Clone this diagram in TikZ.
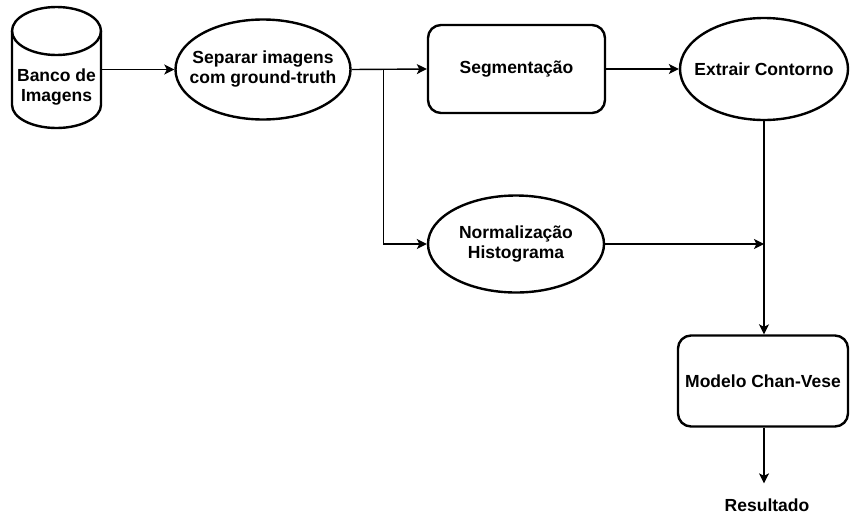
\documentclass[tikz,border=0pt]{standalone}
\usepackage{fontspec}
\setmainfont{Liberation Sans}
\usetikzlibrary{shapes.geometric,arrows.meta,calc}

\tikzset{
  every node/.style={font=\bfseries\fontsize{17.5}{20}\selectfont, align=center},
  shapeline/.style={draw=black, line width=2.4pt},
  oval/.style={shapeline, ellipse, inner sep=-40pt},
  roundbox/.style={shapeline, rectangle, rounded corners=13pt, inner sep=0pt},
  conn/.style={draw=black, line width=1.4pt},
  arr/.style={conn, -{Stealth[length=10pt, width=10pt, inset=2.5pt]}},
}

\begin{document}
\begin{tikzpicture}[x=1pt, y=-1pt]
  \useasboundingbox (0,0) rectangle (850,517);

  % database cylinder (node spans the body, label sits low in it)
  \node[inner sep=0pt, minimum width=89pt, minimum height=121pt,
        label={[yshift=-19.5pt]center:Banco de\\Imagens}] (db) at (56.5,67.5) {};
  \draw[shapeline] (56.5,31) ellipse[x radius=44.5, y radius=24];
  \draw[shapeline] (12,31) -- (12,105)
                   arc[start angle=180, end angle=0, x radius=44.5, y radius=23]
                   -- (101,31);

  % process nodes
  \node[oval, minimum width=175pt, minimum height=100pt] (sep) at (263,69.5) {Separar imagens\\com ground-truth};
  \node[roundbox, minimum width=177pt, minimum height=88pt] (seg) at (516.5,69) {Segmenta\c{c}\~ao};
  \node[oval, minimum width=168pt, minimum height=102pt] (ext) at (764,69) {Extrair Contorno};
  \node[oval, minimum width=176pt, minimum height=97pt] (norm) at (516,244) {Normaliza\c{c}\~ao\\Histograma};
  \node[roundbox, minimum width=170pt, minimum height=91pt] (mcv) at (763,381) {Modelo Chan-Vese};
  \node[inner sep=0pt] (res) at (767,505) {Resultado};

  % branching point after the separation step
  \coordinate (split) at ($(sep.east)+(32,0)$);

  % connectors
  \draw[arr] (db.east |- sep.west) -- (sep.west);
  \draw[arr] (sep.east) -- (seg.west);
  \draw[arr] (split) |- (norm.west);
  \draw[arr] (seg.east) -- (ext.west);
  \draw[arr] (ext.south) -- (ext.south |- mcv.north);
  \draw[arr] (norm.east) -- (ext.south |- norm.east);
  \draw[arr] (mcv.south -| ext.south) -- ($(res.north -| ext.south)+(0,-15)$);
\end{tikzpicture}
\end{document}
